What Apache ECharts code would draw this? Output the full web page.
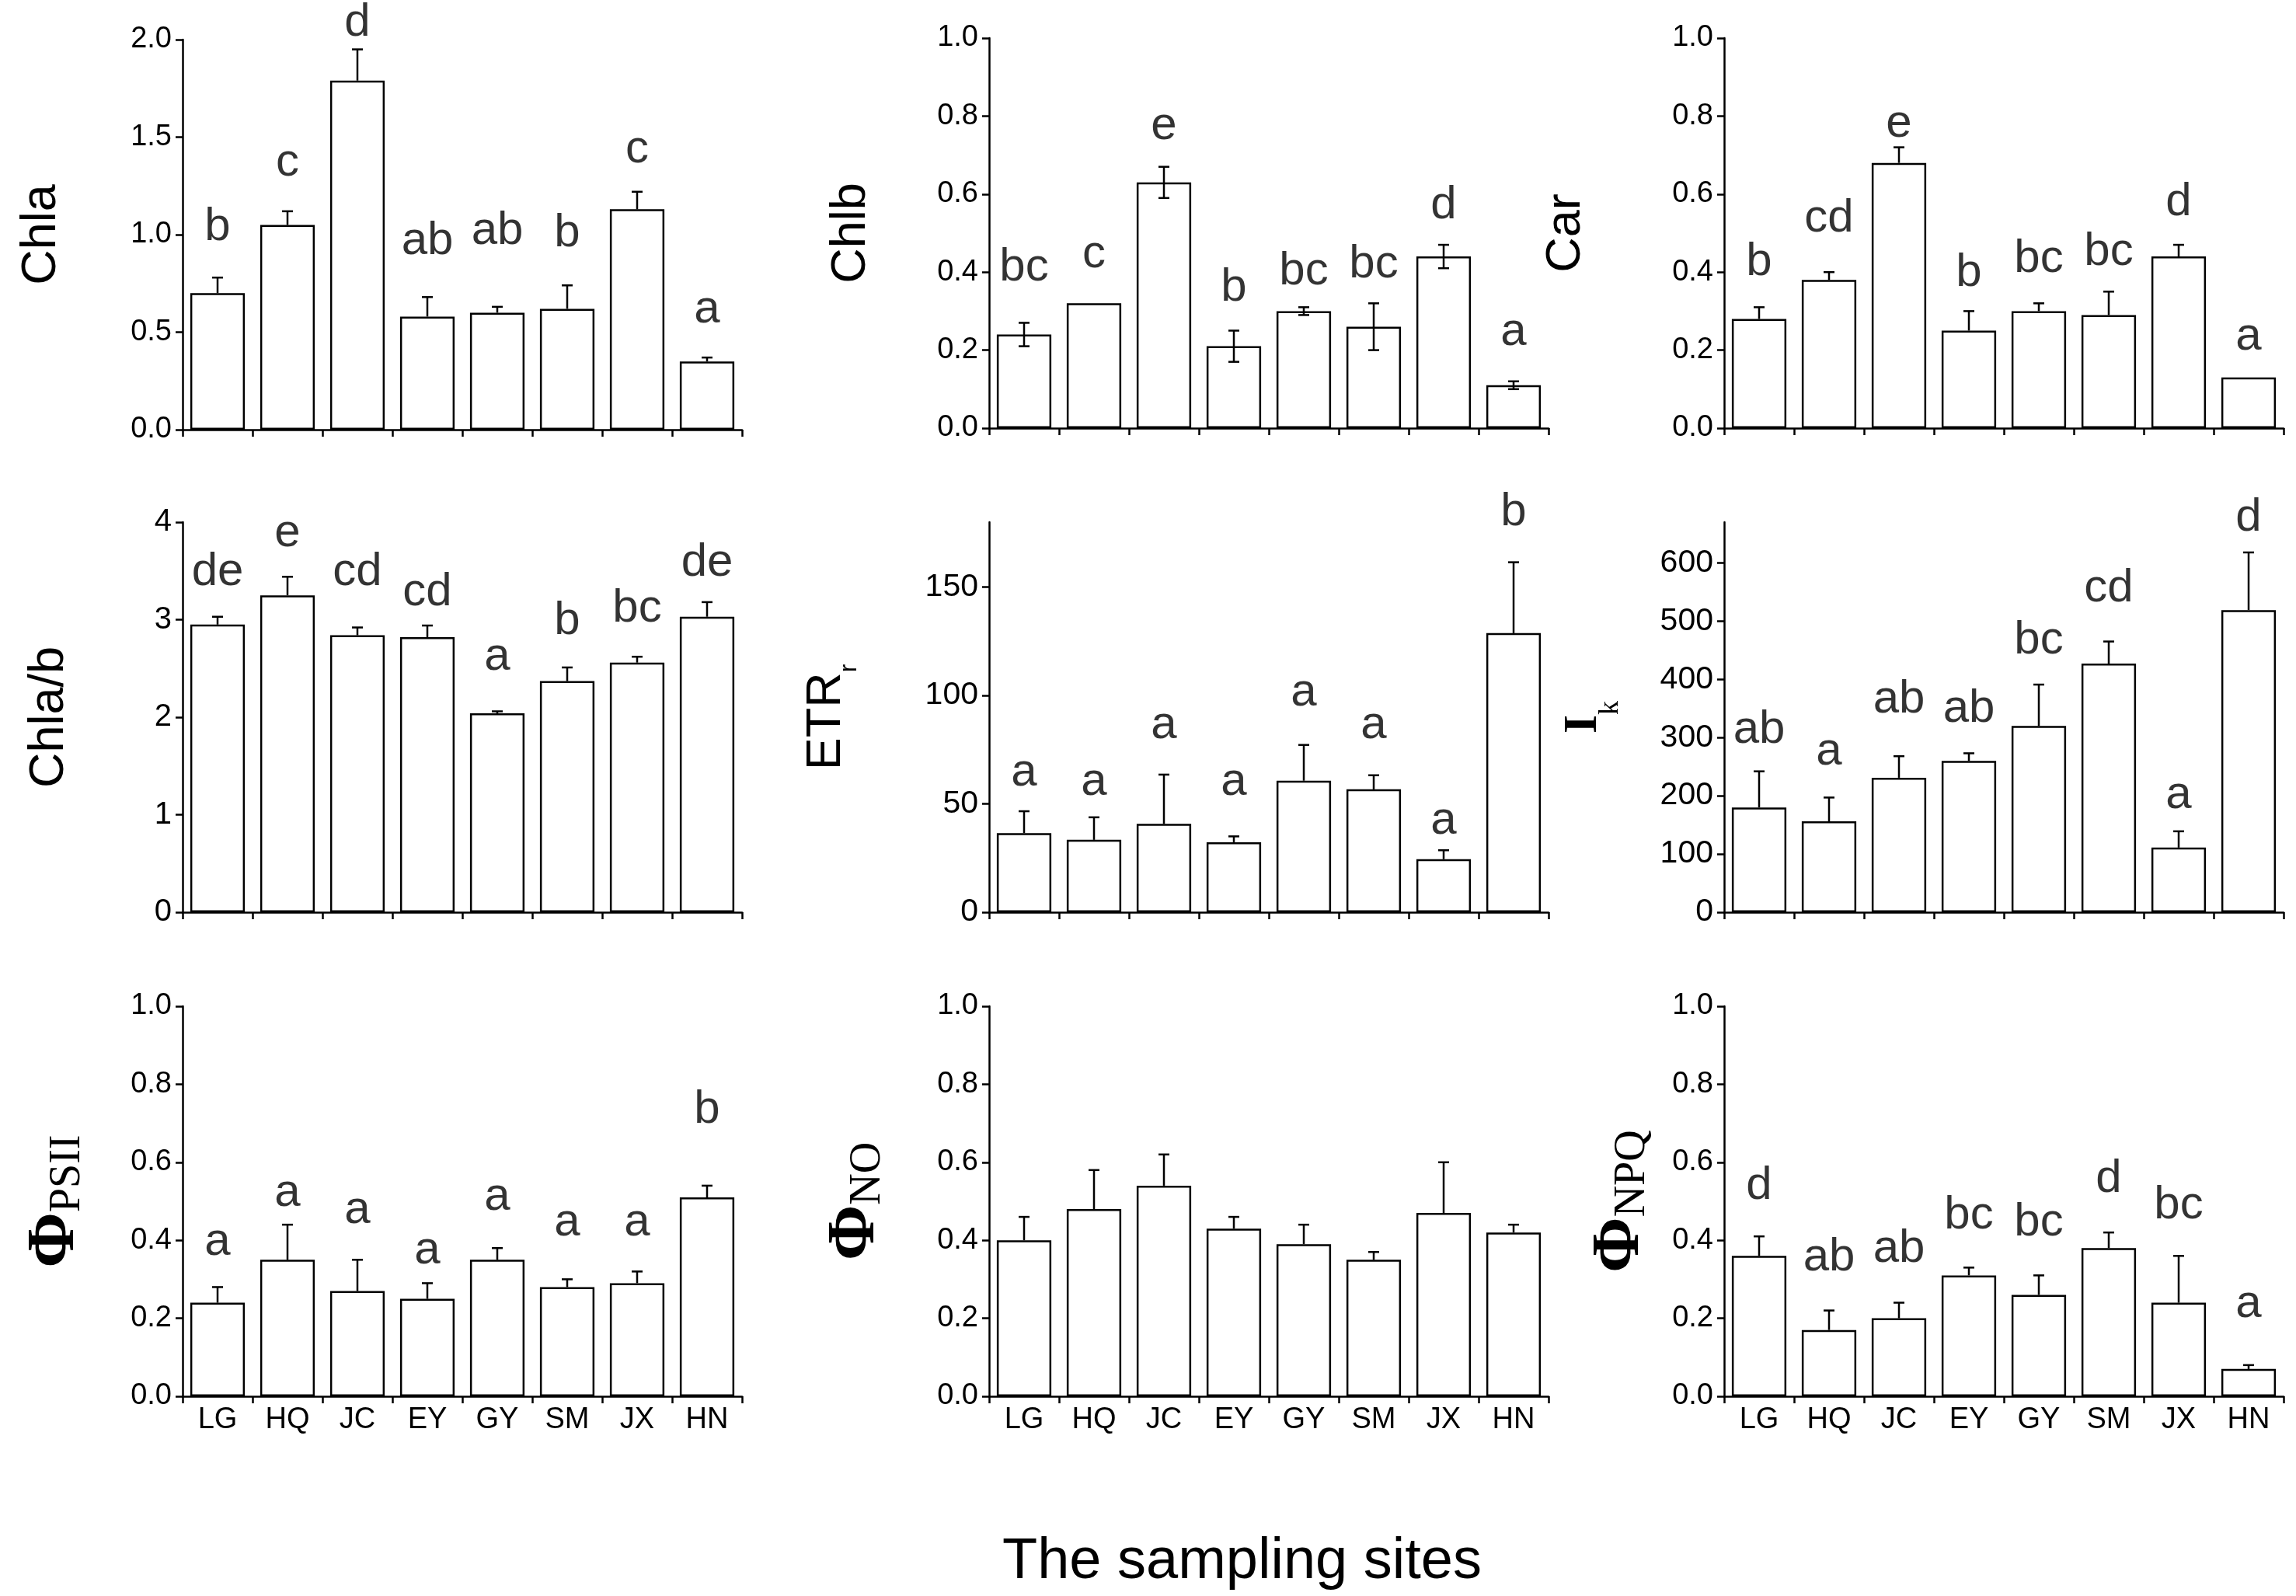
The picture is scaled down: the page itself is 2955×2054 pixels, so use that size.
<!DOCTYPE html>
<html lang="en">
<head>
    <meta charset="UTF-8">
    <script src="https://cdn.jsdelivr.net/npm/echarts@6/dist/echarts.min.js"></script>
    <style>
        * {
            margin: 0;
            padding: 0;
        }
        body {
            background: #fff;
        }
        #chart {
            width: 2955px;
            height: 2054px;
        }
    </style>
</head>
<body>
<div id="chart"></div>

<script>
    // sampling sites (shared x categories)
    const sites = ['LG', 'HQ', 'JC', 'EY', 'GY', 'SM', 'JX', 'HN'];

    // Chla
    const chlaMean = [0.70, 1.05, 1.79, 0.58, 0.60, 0.62, 1.13, 0.35];
    const chlaErr = [0.08, 0.07, 0.16, 0.10, 0.03, 0.12, 0.09, 0.02];
    const chlaLetters = ['b', 'c', 'd', 'ab', 'ab', 'b', 'c', 'a'];
    const chlaLetterY = [0.96, 1.29, 2.01, 0.89, 0.94, 0.93, 1.36, 0.54];
    const chlaTicks = [0, 0.5, 1.0, 1.5, 2.0];

    // Chlb (error bars both ways)
    const chlbMean = [0.24, 0.32, 0.63, 0.21, 0.30, 0.26, 0.44, 0.11];
    const chlbErr = [0.03, 0, 0.04, 0.04, 0.01, 0.06, 0.03, 0.01];
    const chlbLetters = ['bc', 'c', 'e', 'b', 'bc', 'bc', 'd', 'a'];
    const chlbLetterY = [0.372, 0.407, 0.735, 0.321, 0.362, 0.38, 0.532, 0.208];

    // Car
    const carMean = [0.28, 0.38, 0.68, 0.25, 0.30, 0.29, 0.44, 0.13];
    const carErr = [0.03, 0.02, 0.04, 0.05, 0.02, 0.06, 0.03, 0];
    const carLetters = ['b', 'cd', 'e', 'b', 'bc', 'bc', 'd', 'a'];
    const carLetterY = [0.387, 0.498, 0.741, 0.359, 0.395, 0.413, 0.54, 0.195];

    const unitTicks = [0, 0.2, 0.4, 0.6, 0.8, 1.0];

    // Chla/b
    const ratioMean = [2.95, 3.25, 2.84, 2.82, 2.04, 2.37, 2.56, 3.03];
    const ratioErr = [0.08, 0.19, 0.08, 0.12, 0.02, 0.14, 0.06, 0.15];
    const ratioLetters = ['de', 'e', 'cd', 'cd', 'a', 'b', 'bc', 'de'];
    const ratioLetterY = [3.33, 3.73, 3.33, 3.12, 2.46, 2.83, 2.96, 3.43];
    const ratioTicks = [0, 1, 2, 3, 4];

    // ETRr
    const etrMean = [36.5, 33.4, 40.8, 32.3, 60.7, 56.7, 24.5, 128.8];
    const etrErr = [10.1, 10.4, 22.7, 2.7, 16.5, 6.5, 4.1, 32.7];
    const etrLetters = ['a', 'a', 'a', 'a', 'a', 'a', 'a', 'b'];
    const etrLetterY = [57.3, 53.2, 79.3, 53.2, 94.4, 79.3, 35.3, 177.5];
    const etrTicks = [0, 50, 100, 150];

    // Ik
    const ikMean = [180, 156, 231, 260, 320, 427, 111, 519];
    const ikErr = [62, 41, 37, 13, 71, 38, 28, 99];
    const ikLetters = ['ab', 'a', 'ab', 'ab', 'bc', 'cd', 'a', 'd'];
    const ikLetterY = [287, 249, 339, 323, 440, 530, 175, 652];
    const ikTicks = [0, 100, 200, 300, 400, 500, 600];

    // ΦPSII
    const psiiMean = [0.24, 0.35, 0.27, 0.25, 0.35, 0.28, 0.29, 0.51];
    const psiiErr = [0.04, 0.09, 0.08, 0.04, 0.03, 0.02, 0.03, 0.03];
    const psiiLetters = ['a', 'a', 'a', 'a', 'a', 'a', 'a', 'b'];
    const psiiLetterY = [0.357, 0.483, 0.438, 0.334, 0.473, 0.406, 0.406, 0.695];

    // ΦNO
    const noMean = [0.40, 0.48, 0.54, 0.43, 0.39, 0.35, 0.47, 0.42];
    const noErr = [0.06, 0.10, 0.08, 0.03, 0.05, 0.02, 0.13, 0.02];

    // ΦNPQ
    const npqMean = [0.36, 0.17, 0.20, 0.31, 0.26, 0.38, 0.24, 0.07];
    const npqErr = [0.05, 0.05, 0.04, 0.02, 0.05, 0.04, 0.12, 0.01];
    const npqLetters = ['d', 'ab', 'ab', 'bc', 'bc', 'd', 'bc', 'a'];
    const npqLetterY = [0.50, 0.316, 0.338, 0.425, 0.406, 0.518, 0.45, 0.197];

    const xTitle = 'The sampling sites';

    const SANS = '"Liberation Sans", Arial, sans-serif';
    const SERIF = '"Liberation Serif", "Times New Roman", serif';

    const nameRich = {
        t: {fontFamily: SANS, fontSize: 63, color: '#000'},
        e: {fontFamily: SANS, fontSize: 63, color: '#000', padding: [0, 0, 14, 0]},
        r: {fontFamily: SANS, fontSize: 32, color: '#000', verticalAlign: 'bottom'},
        phi: {fontFamily: SERIF, fontSize: 86, fontWeight: 'bold', color: '#000'},
        sub: {fontFamily: SERIF, fontSize: 56, color: '#000', verticalAlign: 'bottom'},
        i: {fontFamily: SERIF, fontSize: 62, fontWeight: 'bold', color: '#000', padding: [0, 0, 22, 0]},
        k: {fontFamily: SERIF, fontSize: 36, color: '#000', verticalAlign: 'bottom'}
    };

    const colLeft = [235, 1273, 2219];
    const rowTop = [49, 672, 1295];
    const plotW = 720;
    const plotH = 502;

    const panels = [
        {name: '{t|Chla}', mean: chlaMean, err: chlaErr, letters: chlaLetters, letterY: chlaLetterY, ticks: chlaTicks, max: 2, digits: 1, gap: 150, tickFont: 38},
        {name: '{t|Chlb}', mean: chlbMean, err: chlbErr, letters: chlbLetters, letterY: chlbLetterY, ticks: unitTicks, max: 1, digits: 1, gap: 146, tickFont: 38, twoSided: true},
        {name: '{t|Car}', mean: carMean, err: carErr, letters: carLetters, letterY: carLetterY, ticks: unitTicks, max: 1, digits: 1, gap: 172, tickFont: 38},
        {name: '{t|Chla/b}', mean: ratioMean, err: ratioErr, letters: ratioLetters, letterY: ratioLetterY, ticks: ratioTicks, max: 4, digits: 0, gap: 140, tickFont: 40},
        {name: '{e|ETR}{r|r}', mean: etrMean, err: etrErr, letters: etrLetters, letterY: etrLetterY, ticks: etrTicks, max: 180, digits: 0, gap: 164, tickFont: 41},
        {name: '{i|I}{k|k}', mean: ikMean, err: ikErr, letters: ikLetters, letterY: ikLetterY, ticks: ikTicks, max: 670, digits: 0, gap: 128, tickFont: 41},
        {name: '{phi|Φ}{sub|PSII}', mean: psiiMean, err: psiiErr, letters: psiiLetters, letterY: psiiLetterY, ticks: unitTicks, max: 1, digits: 1, gap: 120, tickFont: 38},
        {name: '{phi|Φ}{sub|NO}', mean: noMean, err: noErr, ticks: unitTicks, max: 1, digits: 1, gap: 128, tickFont: 38},
        {name: '{phi|Φ}{sub|NPQ}', mean: npqMean, err: npqErr, letters: npqLetters, letterY: npqLetterY, ticks: unitTicks, max: 1, digits: 1, gap: 90, tickFont: 38}
    ];

    const grids = [], xAxes = [], yAxes = [], series = [];

    panels.forEach((p, idx) => {
        const row = Math.floor(idx / 3), col = idx % 3;
        grids.push({
            left: colLeft[col],
            top: rowTop[row] + (idx === 0 ? 2 : 0),
            width: plotW,
            height: plotH
        });

        xAxes.push({
            type: 'category',
            gridIndex: idx,
            data: sites,
            axisLine: {lineStyle: {color: '#000', width: 2.5}},
            axisTick: {show: true, interval: 0, length: 9, lineStyle: {color: '#000', width: 2.5}},
            axisLabel: {
                show: row === 2,
                interval: 0,
                margin: 12,
                color: '#000',
                fontSize: 38,
                fontFamily: SANS
            },
            splitLine: {show: false}
        });

        yAxes.push({
            type: 'value',
            gridIndex: idx,
            min: 0,
            max: p.max,
            name: p.name,
            nameLocation: 'middle',
            nameRotate: 90,
            nameGap: p.gap,
            nameTextStyle: {rich: nameRich},
            axisLine: {show: true, lineStyle: {color: '#000', width: 2.5}},
            axisTick: {show: true, length: 9, customValues: p.ticks, lineStyle: {color: '#000', width: 2.5}},
            axisLabel: {
                customValues: p.ticks,
                formatter: v => Number(v).toFixed(p.digits),
                margin: 14,
                color: '#000',
                fontSize: p.tickFont,
                fontFamily: SANS
            },
            splitLine: {show: false}
        });

        series.push({
            type: 'bar',
            xAxisIndex: idx,
            yAxisIndex: idx,
            data: p.mean,
            barCategoryGap: '22%',
            silent: true,
            itemStyle: {color: '#fff', borderColor: '#000', borderWidth: 2.5}
        });

        // error bars
        series.push({
            type: 'custom',
            xAxisIndex: idx,
            yAxisIndex: idx,
            z: 5,
            silent: true,
            data: p.mean.map((m, j) => [j, m, p.err[j]]),
            renderItem: (params, api) => {
                const x = api.value(0), m = api.value(1), e = api.value(2);
                if (!e) return;
                const top = api.coord([x, m + e]);
                const low = api.coord([x, p.twoSided ? m - e : m]);
                const cap = 7;
                const style = {stroke: '#000', lineWidth: 2.5};
                const children = [
                    {type: 'line', shape: {x1: top[0], y1: top[1], x2: low[0], y2: low[1]}, style},
                    {type: 'line', shape: {x1: top[0] - cap, y1: top[1], x2: top[0] + cap, y2: top[1]}, style}
                ];
                if (p.twoSided) {
                    children.push({type: 'line', shape: {x1: low[0] - cap, y1: low[1], x2: low[0] + cap, y2: low[1]}, style});
                }
                return {type: 'group', children};
            }
        });

        // significance letters
        if (p.letters) {
            series.push({
                type: 'scatter',
                xAxisIndex: idx,
                yAxisIndex: idx,
                clip: false,
                silent: true,
                symbolSize: 1,
                itemStyle: {color: 'rgba(0,0,0,0)'},
                data: p.letterY.map((y, j) => [j, y]),
                label: {
                    show: true,
                    position: 'top',
                    distance: -11,
                    formatter: params => p.letters[params.dataIndex],
                    color: '#000',
                    fontSize: 60,
                    fontFamily: SANS
                }
            });
        }
    });

    const myChart = echarts.init(document.getElementById('chart'));
    myChart.setOption({
        animation: false,
        backgroundColor: '#fff',
        grid: grids,
        xAxis: xAxes,
        yAxis: yAxes,
        series: series,
        graphic: [{
            type: 'text',
            left: 1598 - 308,
            top: 2009 - 35,
            style: {
                text: xTitle,
                fontSize: 74,
                fontFamily: SANS,
                fill: '#000'
            }
        }]
    });
</script>
</body>
</html>
